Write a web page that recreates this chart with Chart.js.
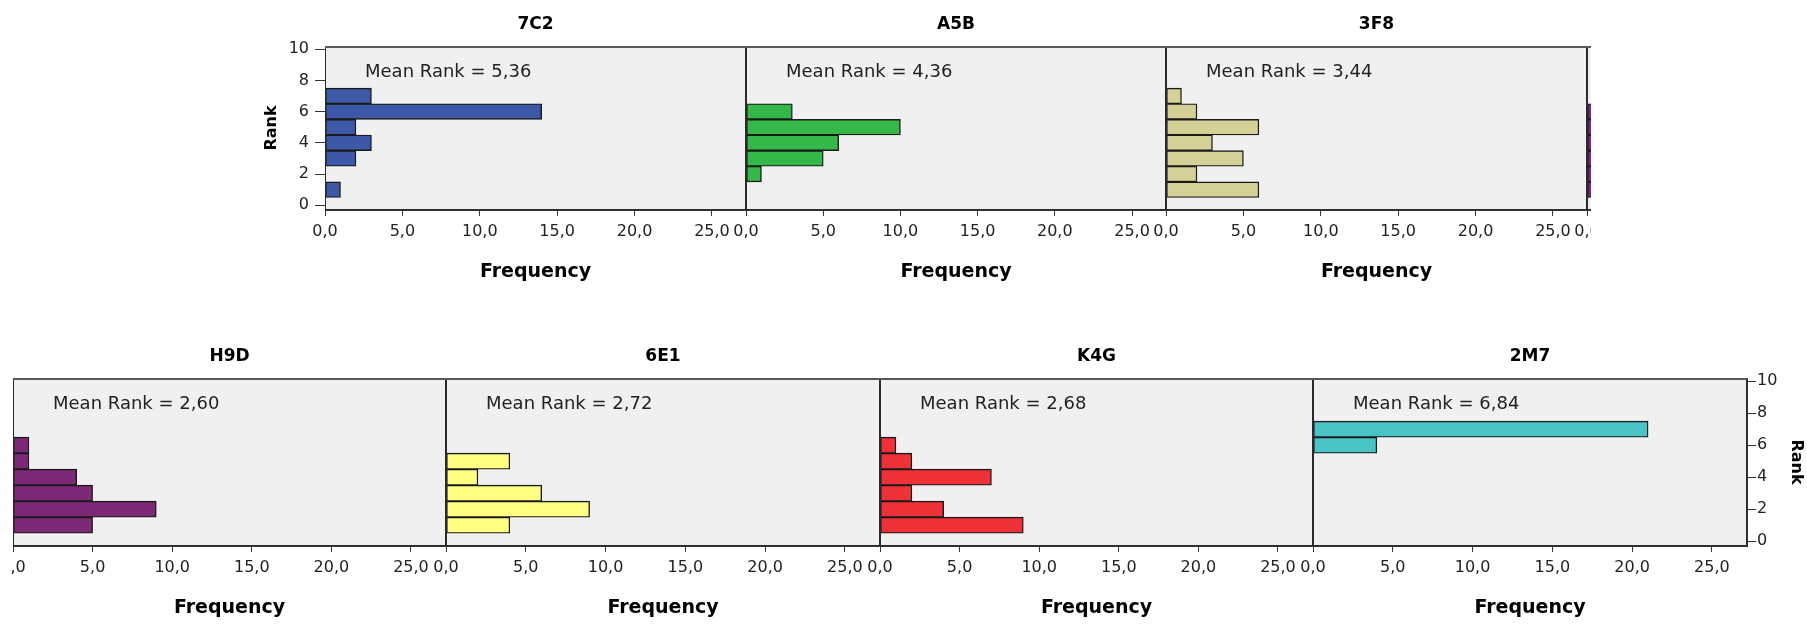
<!DOCTYPE html>
<html>
<head>
<meta charset="utf-8">
<title>Rank histograms</title>
<script src="https://cdn.jsdelivr.net/npm/chart.js@4.4.1/dist/chart.umd.min.js"></script>
<style>
  body { margin: 0; background: #fff; width: 1807px; height: 624px; overflow: hidden; position: relative; }
  .row { position: absolute; overflow: hidden; }
  .row canvas { position: absolute; }
</style>
</head>
<body>
<div class="row" id="topRow" style="left:0px; top:0px; width:1591px; height:312px;"></div>
<div class="row" id="bottomRow" style="left:11px; top:312px; width:1796px; height:312px;"></div>
<script>
// ranks on the y axis, one bar per rank
const ranks = [1, 2, 3, 4, 5, 6, 7];
const rankTicks = [0, 2, 4, 6, 8, 10];
const freqTicks = [0, 5, 10, 15, 20, 25];

// frequency of each rank (1..7) per group
const freq7C2 = [1, 0, 2, 3, 2, 14, 3];
const freqA5B = [0, 1, 5, 6, 10, 3, 0];
const freq3F8 = [6, 2, 5, 3, 6, 2, 1];
const freqH9D = [5, 9, 5, 4, 1, 1, 0];
const freq6E1 = [4, 9, 6, 2, 4, 0, 0];
const freqK4G = [9, 4, 2, 7, 2, 1, 0];
const freq2M7 = [0, 0, 0, 0, 0, 4, 21];

const groups = ['7C2', 'A5B', '3F8', 'H9D', '6E1', 'K4G', '2M7'];
const meanRanks = ['5,36', '4,36', '3,44', '2,60', '2,72', '2,68', '6,84'];
const freqs = [freq7C2, freqA5B, freq3F8, freqH9D, freq6E1, freqK4G, freq2M7];

Chart.defaults.font.family = '"DejaVu Sans", sans-serif';

const TITLE_H = 36;
const XAXIS_H = 80;

const topPanels = [
    { group: '7C2', color: '#3e58a8', left: 325, right: 746, yAxis: 'left' },
    { group: 'A5B', color: '#35b84a', left: 746, right: 1166 },
    { group: '3F8', color: '#d5d096', left: 1166, right: 1587 },
    { group: 'H9D', color: '#7d2978', left: 1587, right: 2008 } // cut off by the row edge
];
const bottomPanels = [
    { group: 'H9D', color: '#7d2978', left: 13, right: 446 },
    { group: '6E1', color: '#ffff82', left: 446, right: 880 },
    { group: 'K4G', color: '#ef3238', left: 880, right: 1313 },
    { group: '2M7', color: '#48c3c6', left: 1313, right: 1747, yAxis: 'right' }
];

//Grey plot background, frame and the mean rank note
const panelPlugin = {
    id: 'panelFrame',
    beforeDraw(chart) {
        const {ctx, chartArea: a} = chart;
        ctx.save();
        ctx.fillStyle = '#f0f0f0';
        ctx.fillRect(a.left, a.top, a.width, a.height);
        ctx.restore();
    },
    afterDatasetsDraw(chart, args, opts) {
        const {ctx, chartArea: a} = chart;
        ctx.save();
        ctx.strokeStyle = '#2a2a2a';
        ctx.lineWidth = 1;
        ctx.strokeRect(a.left + 0.5, a.top + 0.5, a.width - 1, a.height - 1);
        // top edge is a bit heavier and greyer
        ctx.strokeStyle = '#5a5a5a';
        ctx.lineWidth = 2;
        ctx.beginPath();
        ctx.moveTo(a.left, a.top + 1);
        ctx.lineTo(a.right, a.top + 1);
        ctx.stroke();
        ctx.fillStyle = '#222';
        ctx.font = '18px "DejaVu Sans"';
        ctx.textBaseline = 'middle';
        ctx.fillText(opts.text, a.left + 40, a.top + 26);
        ctx.restore();
    }
};

function makePanel(rowId, rowLeft, rowTop, p, plotTop, plotH) {
    const idx = groups.indexOf(p.group);
    const counts = freqs[idx];
    const yW = p.yAxis === 'left' ? 70 : (p.yAxis === 'right' ? 60 : 0);
    const padL = p.yAxis === 'left' ? 0 : 30;
    const padR = p.yAxis === 'right' ? 0 : 30;
    const plotW = p.right - p.left;
    const w = plotW + padL + padR + yW;
    const h = TITLE_H + plotH + XAXIS_H;

    let canvas = document.createElement('canvas');
    canvas.width = w;
    canvas.height = h;
    canvas.style.width = w + 'px';
    canvas.style.height = h + 'px';
    let leftOffset = p.yAxis === 'left' ? yW : padL;
    canvas.style.left = (p.left - leftOffset - rowLeft) + 'px';
    canvas.style.top = (plotTop - TITLE_H - rowTop) + 'px';
    document.getElementById(rowId).appendChild(canvas);

    const points = ranks.map((r, i) => ({ x: counts[i], y: r })).filter(d => d.x > 0);

    new Chart(canvas, {
        type: 'bar',
        data: {
            datasets: [{
                data: points,
                backgroundColor: p.color,
                borderColor: '#1a1a1a',
                borderWidth: 1.4,
                borderSkipped: false,
                barPercentage: 1,
                categoryPercentage: 1
            }]
        },
        options: {
            indexAxis: 'y',
            responsive: false,
            animation: false,
            devicePixelRatio: 1,
            layout: { padding: { left: padL, right: padR, top: 0, bottom: 0 } },
            plugins: {
                legend: { display: false },
                tooltip: { enabled: false },
                title: {
                    display: true,
                    text: p.group,
                    fullSize: false,
                    color: '#000',
                    font: { size: 17, weight: 'bold' },
                    padding: { top: 4.8, bottom: 10.8 }
                },
                panelFrame: { text: 'Mean Rank = ' + meanRanks[idx] }
            },
            scales: {
                x: {
                    type: 'linear',
                    min: 0,
                    max: 27.2,
                    offset: false,
                    afterBuildTicks: s => { s.ticks = freqTicks.map(v => ({ value: v })); },
                    afterFit: s => { s.height = XAXIS_H; },
                    grid: { offset: false, drawOnChartArea: false, drawTicks: true, tickLength: 6, color: '#333' },
                    border: { color: '#333' },
                    ticks: {
                        padding: 6.4,
                        color: '#222',
                        font: { size: 16 },
                        maxRotation: 0,
                        callback: v => v.toFixed(1).replace('.', ',')
                    },
                    title: {
                        display: true,
                        text: 'Frequency',
                        color: '#000',
                        font: { size: 19, weight: 'bold' },
                        padding: { top: 0, bottom: 6.6 }
                    }
                },
                y: {
                    type: 'linear',
                    display: !!p.yAxis,
                    position: p.yAxis || 'left',
                    min: -0.3,
                    max: 10.2,
                    offset: false,
                    afterBuildTicks: s => { s.ticks = rankTicks.map(v => ({ value: v })); },
                    afterFit: s => { s.width = yW; },
                    grid: { offset: false, drawOnChartArea: false, drawTicks: true, tickLength: p.yAxis === 'left' ? 10 : 9, color: '#333' },
                    border: { color: '#333' },
                    ticks: { padding: p.yAxis === 'left' ? 6 : 1, color: '#222', font: { size: 16 } },
                    title: {
                        display: true,
                        text: 'Rank',
                        color: '#000',
                        font: { size: 16, weight: 'bold' },
                        padding: { top: p.yAxis === 'left' ? 7.4 : 0.9, bottom: 0 }
                    }
                }
            }
        },
        plugins: [panelPlugin]
    });
}

topPanels.forEach(p => makePanel('topRow', 0, 0, p, 46, 164));
bottomPanels.forEach(p => makePanel('bottomRow', 11, 312, p, 378, 168));
</script>
</body>
</html>
